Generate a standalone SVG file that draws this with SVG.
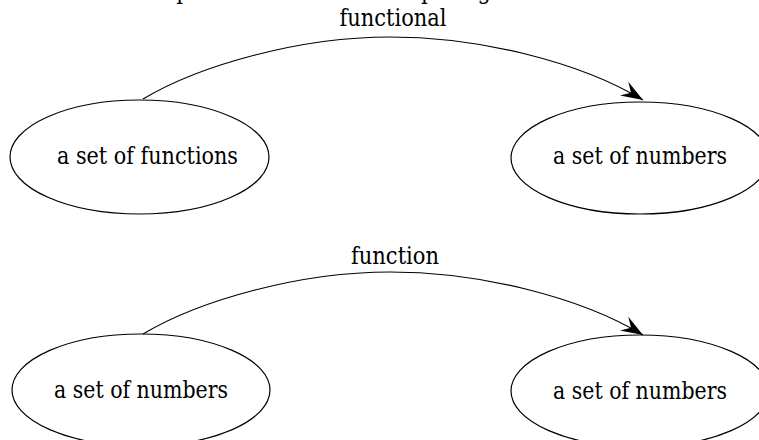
<svg xmlns="http://www.w3.org/2000/svg" width="759" height="440" viewBox="0 0 759 440">
  <style>
    .node ellipse { fill: none; stroke: #000; stroke-width: 1.2; }
    .lbl { font-family: 'DejaVu Serif', 'Liberation Serif', serif; font-size: 24px; fill: #000; text-anchor: middle; }
    .edge { fill: none; stroke: #000; stroke-width: 1.2; }
  </style>
  <defs>
    <marker id="vee" markerUnits="userSpaceOnUse" markerWidth="26" markerHeight="20" viewBox="0 -10 26 20" refX="22" refY="0" orient="auto">
      <path d="M22,0 L0,-8 L8,0 L0,8 Z" fill="#000"/>
    </marker>
  </defs>
  <rect width="759" height="440" fill="#fff"/>
  <text class="lbl" x="372" y="-1.5" textLength="522" lengthAdjust="spacingAndGlyphs">A sample of a functional comparing to a function</text>

  <g id="n_functions" class="node">
    <ellipse cx="139.5" cy="157" rx="129.5" ry="57"/>
    <text class="lbl" x="147.5" y="164" textLength="181" lengthAdjust="spacingAndGlyphs">a set of functions</text>
  </g>
  <g id="n_numbers_top" class="node">
    <ellipse cx="640" cy="158" rx="129" ry="56"/>
    <text class="lbl" x="640" y="164" textLength="174" lengthAdjust="spacingAndGlyphs">a set of numbers</text>
  </g>
  <g id="n_numbers_bl" class="node">
    <ellipse cx="141" cy="390" rx="129" ry="56"/>
    <text class="lbl" x="141" y="398" textLength="174" lengthAdjust="spacingAndGlyphs">a set of numbers</text>
  </g>
  <g id="n_numbers_br" class="node">
    <ellipse cx="640" cy="391" rx="129" ry="56"/>
    <text class="lbl" x="640" y="399" textLength="174" lengthAdjust="spacingAndGlyphs">a set of numbers</text>
  </g>

  <g id="connectors">
    <path class="edge" marker-end="url(#vee)" d="M143,99 C200,65 300,37 390,37 C480,37 580,62 643,100"/>
    <text class="lbl" x="393" y="26" textLength="107" lengthAdjust="spacingAndGlyphs">functional</text>
    <path class="edge" marker-end="url(#vee)" d="M143,334 C200,300 300,272 390,272 C480,272 580,297 643,335"/>
    <text class="lbl" x="395" y="264" textLength="88" lengthAdjust="spacingAndGlyphs">function</text>
  </g>
</svg>
